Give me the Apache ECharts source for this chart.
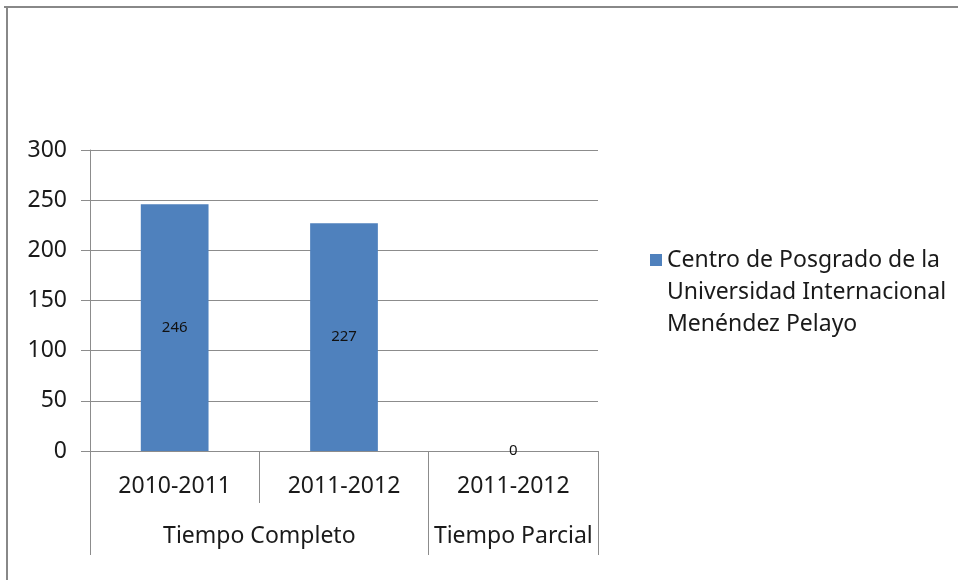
<!DOCTYPE html>
<html>
<head>
<meta charset="utf-8">
<script src="https://cdn.jsdelivr.net/npm/echarts@6/dist/echarts.min.js"></script>
<style>
  html, body { margin: 0; padding: 0; background: #fff; }
  #chart { width: 958px; height: 580px; }
</style>
</head>
<body>
<div id="chart"></div>
<script>
var periods = ['2010-2011', '2011-2012', '2011-2012'];
var groups = ['Tiempo Completo', 'Tiempo Parcial'];
var groupBounds = [0, 2, 3];      // category boundaries of each group
var groupCenters = [1, 2.5];
var seriesName = 'Centro de Posgrado de la\nUniversidad Internacional\nMenéndez Pelayo';
var values = [246, 227, 0];
var yTicks = [0, 50, 100, 150, 200, 250, 300];

var font = 'Noto Sans';
var grey = '#8c8c8c';

var myChart = echarts.init(document.getElementById('chart'));
var option = {
  animation: false,
  graphic: [
    { type: 'line', shape: { x1: 4, y1: 7, x2: 958, y2: 7 }, style: { stroke: '#888', lineWidth: 2 } },
    { type: 'line', shape: { x1: 7, y1: 6, x2: 7, y2: 580 }, style: { stroke: '#888', lineWidth: 2 } }
  ],
  grid: { left: 90, right: 360, top: 150, bottom: 129, containLabel: false },
  legend: {
    orient: 'vertical',
    left: 645,
    top: 175,
    itemWidth: 12,
    itemHeight: 12,
    itemGap: 0,
    icon: 'rect',
    data: [seriesName],
    // two blank lines first so the square sits level with the first text line
    formatter: function (name) { return '\n\n' + name; },
    textStyle: { fontFamily: font, fontSize: 23, color: '#1a1a1a', lineHeight: 32 }
  },
  xAxis: [
    {
      type: 'category',
      data: periods,
      position: 'bottom',
      axisLine: { lineStyle: { color: grey, width: 1 } },
      axisTick: { show: true, interval: 0, length: 52, lineStyle: { color: grey } },
      axisLabel: { interval: 0, margin: 24, fontFamily: font, fontSize: 23, color: '#1a1a1a' }
    },
    {
      type: 'value',
      min: 0,
      max: 3,
      position: 'bottom',
      axisLine: { show: false },
      splitLine: { show: false },
      axisTick: { show: true, customValues: groupBounds, length: 104, lineStyle: { color: grey } },
      axisLabel: {
        customValues: groupCenters,
        margin: 74,
        fontFamily: font, fontSize: 23, color: '#1a1a1a',
        formatter: function (v) { return v === groupCenters[0] ? groups[0] : groups[1]; }
      }
    }
  ],
  yAxis: {
    type: 'value',
    min: yTicks[0],
    max: yTicks[yTicks.length - 1],
    interval: 50,
    axisLine: { show: true, lineStyle: { color: grey } },
    axisTick: { show: true, length: 9, inside: false, lineStyle: { color: grey } },
    axisLabel: { margin: 23, fontFamily: font, fontSize: 23, color: '#1a1a1a' },
    splitLine: { show: true, lineStyle: { color: grey, width: 1 } }
  },
  series: [{
    name: seriesName,
    type: 'bar',
    xAxisIndex: 0,
    data: values,
    barWidth: '40%',
    itemStyle: { color: '#4f81bd' },
    label: { show: true, position: 'inside', fontFamily: font, fontSize: 15, color: '#111' }
  }]
};
myChart.setOption(option);
window.addEventListener('resize', function () { myChart.resize(); });
</script>
</body>
</html>
